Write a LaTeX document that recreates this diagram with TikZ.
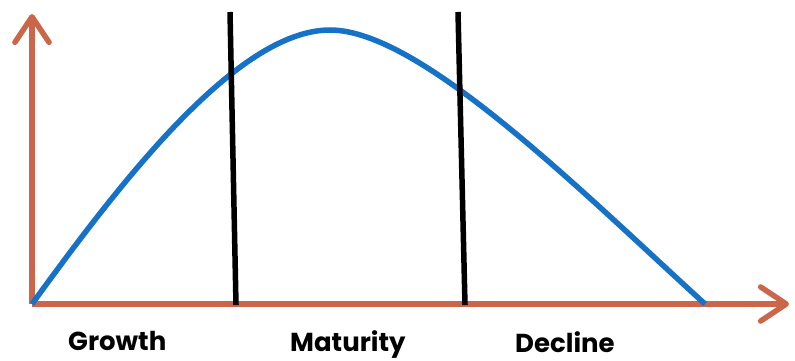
\documentclass[tikz,border=0pt]{standalone}
\usepackage{fontspec}
\setmainfont{Poppins}
\usetikzlibrary{arrows.meta}
\definecolor{axisred}{RGB}{204,102,74}
\definecolor{curveblue}{RGB}{22,114,198}
\tikzstyle{ax}=[line width=5.5pt, axisred, -{Straight Barb[round, length=9mm, width=12mm]}]
\tikzstyle{cut}=[line width=5.5pt, black]
\tikzstyle{stage}=[font=\fontsize{26}{30}\selectfont\bfseries, inner sep=0, anchor=base west]

\begin{document}
\begin{tikzpicture}[x=1pt,y=-1pt]
\useasboundingbox (0,0) rectangle (795,361);
\coordinate (o) at (32,304);
\coordinate (top) at (32,14);
\coordinate (right) at (789,304);
\coordinate (end) at (705,304);
\coordinate (a1) at (230,12);
\coordinate (a2) at (236,305);
\coordinate (b1) at (458,12);
\coordinate (b2) at (465,305);
\node at (68,350) [stage](g){Growth};
\node at (290,351) [stage](m){Maturity};
\node at (515,352) [stage](d){Decline};
\draw[ax] (o)--(top);
\draw[ax] (o)--(right);
\draw[line width=5.5pt, curveblue] (o) .. controls (115,190) and (235,30) .. (330,30) .. controls (420,30) and (580,190) .. (end);
\draw[cut] (a1)--(a2);
\draw[cut] (b1)--(b2);
\end{tikzpicture}
\end{document}
